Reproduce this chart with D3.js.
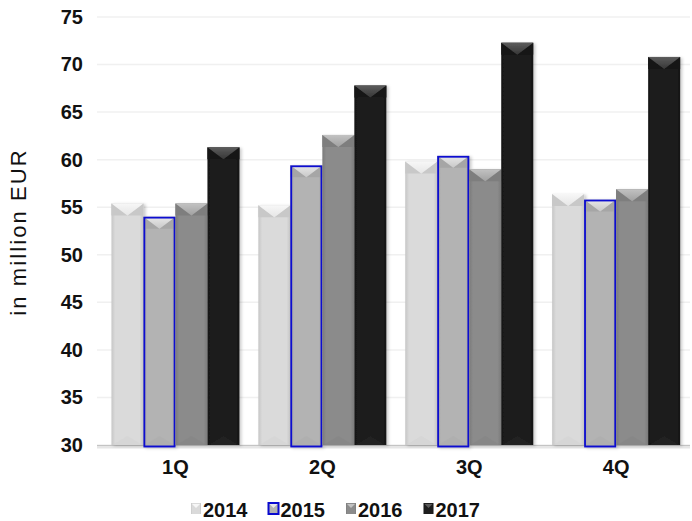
<!DOCTYPE html>
<html>
<head>
<meta charset="utf-8">
<script src="https://cdn.jsdelivr.net/npm/d3@7"></script>
<style>
  html, body { margin: 0; padding: 0; background: #ffffff; }
  svg { display: block; font-family: "Liberation Sans", Arial, sans-serif; }
</style>
</head>
<body>
<svg id="chart" width="692" height="521"></svg>
<script>
// Quarterly figures, in million EUR
const categories = ["1Q", "2Q", "3Q", "4Q"];
const seriesNames = ["2014", "2015", "2016", "2017"];
const values2014 = [55.4, 55.2, 59.8, 56.4];
const values2015 = [54.0, 59.4, 60.4, 55.8];
const values2016 = [55.4, 62.6, 59.0, 56.9];
const values2017 = [61.3, 67.8, 72.3, 70.8];
const yTicks = [30, 35, 40, 45, 50, 55, 60, 65, 70, 75];
const yLabel = "in million EUR";

const seriesValues = [values2014, values2015, values2016, values2017];

// shading per series: body, lit top face, shaded side faces, bottom face
const styles = [
  { body: "#dadada", edge: "#c6c6c6", top: "#f7f7f7", side: "#c8c8c8", bottom: "#cfcfcf", stroke: null },
  { body: "#b3b3b3", edge: "#a3a3a3", top: "#e8e8e8", side: "#a6a6a6", bottom: "#a8a8a8", stroke: "#0a0ad0" },
  { body: "#8b8b8b", edge: "#7b7b7b", top: "#c2c2c2", side: "#7e7e7e", bottom: "#818181", stroke: null },
  { body: "#1e1e1e", edge: "#141414", top: "#5c5c5c", side: "#161616", bottom: "#282828", stroke: null }
];

const svg = d3.select("#chart");
const defs = svg.append("defs");

const plotLeft = 97, plotRight = 690;
const y = d3.scaleLinear().domain([30, 75]).range([445, 17]);
const x0 = d3.scaleBand().domain(categories).range([102, 689.6]).paddingInner(0.1287).paddingOuter(0.0644);
const x1 = d3.scaleBand().domain(seriesNames).range([0, x0.bandwidth()]);

// gradients
styles.forEach((s, i) => {
  const g = defs.append("linearGradient").attr("id", "body" + i).attr("x1", 0).attr("x2", 1).attr("y1", 0).attr("y2", 0);
  g.append("stop").attr("offset", 0).attr("stop-color", s.edge);
  g.append("stop").attr("offset", 0.12).attr("stop-color", s.body);
  g.append("stop").attr("offset", 0.88).attr("stop-color", s.body);
  g.append("stop").attr("offset", 1).attr("stop-color", s.edge);
  const t = defs.append("linearGradient").attr("id", "top" + i).attr("x1", 0).attr("x2", 0).attr("y1", 0).attr("y2", 1);
  t.append("stop").attr("offset", 0).attr("stop-color", s.top);
  t.append("stop").attr("offset", 1).attr("stop-color", d3.interpolateRgb(s.top, s.body)(0.6));
});
const shadow = defs.append("filter").attr("id", "shadow").attr("x", "-20%").attr("y", "-5%").attr("width", "150%").attr("height", "115%");
shadow.append("feDropShadow").attr("dx", 2).attr("dy", 1).attr("stdDeviation", 1.6)
  .attr("flood-color", "#000").attr("flood-opacity", 0.2);

// gridlines
svg.append("g").selectAll("line").data(yTicks).join("line")
  .attr("x1", plotLeft).attr("x2", plotRight)
  .attr("y1", d => y(d)).attr("y2", d => y(d))
  .attr("stroke", "#f0f0f0").attr("stroke-width", 1.5);

// y axis labels
const yAxis = d3.axisLeft(y).tickValues(yTicks).tickSize(0).tickPadding(0);
const yg = svg.append("g").attr("transform", "translate(83,0)").call(yAxis);
yg.select(".domain").remove();
yg.selectAll("text").attr("font-size", 20).attr("font-weight", "bold").attr("fill", "#111")
  .attr("font-family", "'Liberation Sans', Arial, sans-serif");

// baseline
svg.append("line").attr("x1", plotLeft).attr("x2", plotRight).attr("y1", y(30) + 2).attr("y2", y(30) + 2)
  .attr("stroke", "#e6e6e6").attr("stroke-width", 3);
svg.append("line").attr("x1", plotLeft).attr("x2", plotRight).attr("y1", y(30) + 0.5).attr("y2", y(30) + 0.5)
  .attr("stroke", "#c4c4c4").attr("stroke-width", 1);

// bevelled bar
function drawBar(g, x, yTop, w, h, si) {
  const s = styles[si];
  const bv = Math.min(12, h / 2);
  const xm = x + w / 2;
  const grp = g.append("g").attr("filter", "url(#shadow)");
  grp.append("rect").attr("x", x).attr("y", yTop).attr("width", w).attr("height", h).attr("fill", `url(#body${si})`);
  // side faces of top bevel
  grp.append("path").attr("d", `M${x},${yTop}L${xm},${yTop + bv}L${x},${yTop + bv}Z`).attr("fill", s.side);
  grp.append("path").attr("d", `M${x + w},${yTop}L${xm},${yTop + bv}L${x + w},${yTop + bv}Z`).attr("fill", s.side);
  // lit top face
  grp.append("path").attr("d", `M${x},${yTop}L${x + w},${yTop}L${xm},${yTop + bv}Z`).attr("fill", `url(#top${si})`);
  // bottom face
  const yb = yTop + h;
  grp.append("path").attr("d", `M${x + 1},${yb}L${x + w - 1},${yb}L${xm},${yb - 9}Z`).attr("fill", s.bottom).attr("opacity", 0.35);
  if (s.stroke) {
    grp.append("rect").attr("x", x + 0.9).attr("y", yTop + 0.9).attr("width", w - 1.8).attr("height", h + 0.6)
      .attr("fill", "none").attr("stroke", s.stroke).attr("stroke-width", 1.8);
  }
}

const barsG = svg.append("g");
categories.forEach((c, ci) => {
  seriesNames.forEach((sn, si) => {
    const v = seriesValues[si][ci];
    const bx = x0(c) + x1(sn);
    drawBar(barsG, bx, y(v), x1.bandwidth(), y(30) - y(v), si);
  });
});

// category labels
const xAxis = d3.axisBottom(x0).tickSize(0).tickPadding(0);
const xg = svg.append("g").attr("transform", "translate(0,460)").call(xAxis);
xg.select(".domain").remove();
xg.selectAll("text").attr("font-size", 20).attr("font-weight", "bold").attr("fill", "#111")
  .attr("font-family", "'Liberation Sans', Arial, sans-serif");

// y axis title
svg.append("text").attr("transform", "translate(26,232) rotate(-90)")
  .attr("text-anchor", "middle").attr("font-size", 22).attr("letter-spacing", 2.1)
  .attr("fill", "#111").text(yLabel);

// legend
const legend = svg.append("g");
let lx = 191;
seriesNames.forEach((sn, si) => {
  const item = legend.append("g").attr("transform", `translate(${lx},0)`);
  const s = styles[si];
  const sw = 10, sy = 503;
  item.append("rect").attr("x", 0).attr("y", sy).attr("width", sw).attr("height", sw + 1)
    .attr("fill", `url(#body${si})`)
    .attr("stroke", s.stroke || "none").attr("stroke-width", s.stroke ? 2 : 0);
  item.append("path").attr("d", `M1,${sy + 1}L${sw - 1},${sy + 1}L${sw / 2},${sy + 5}Z`).attr("fill", s.top);
  const t = item.append("text").attr("x", sw + 2).attr("y", 517).attr("font-size", 20)
    .attr("font-weight", "bold").attr("fill", "#111").text(sn);
  lx += sw + 2 + t.node().getComputedTextLength() + 21;
});
</script>
</body>
</html>
